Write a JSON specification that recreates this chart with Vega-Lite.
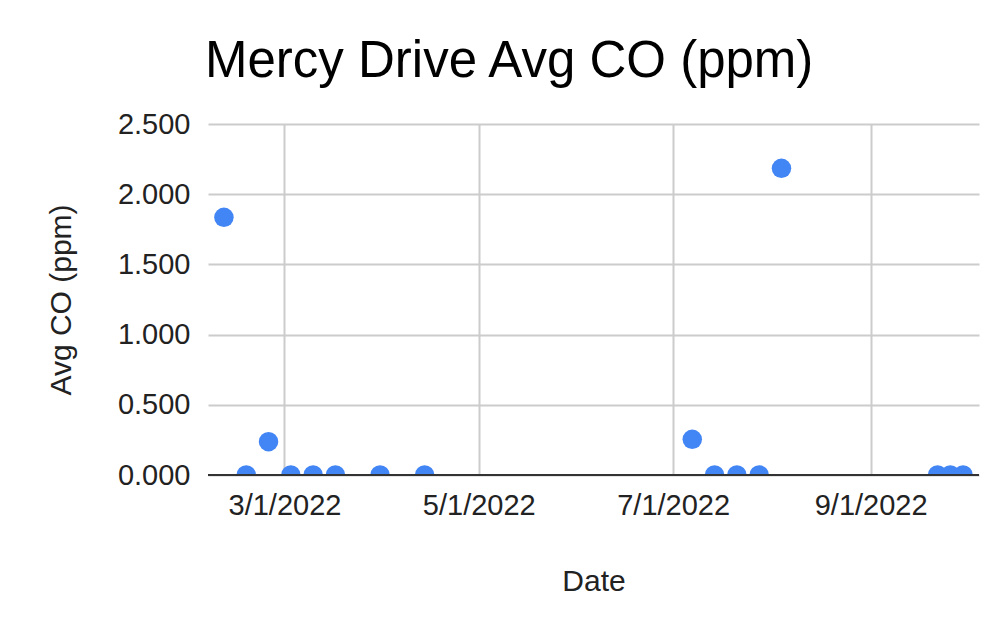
{
  "$schema": "https://vega.github.io/schema/vega-lite/v6.json",
  "width": 771,
  "height": 351,
  "autosize": {"type": "none"},
  "padding": {"left": 208, "top": 124, "right": 21, "bottom": 151},
  "background": "white",
  "title": {
    "text": "Mercy Drive Avg CO (ppm)",
    "anchor": "start",
    "frame": "group",
    "font": "Liberation Sans",
    "fontSize": 51,
    "fontWeight": "normal",
    "color": "#000000",
    "offset": 22,
    "dx": -3
  },
  "data": {
    "values": [
      {"Date": "2022/02/10", "CO": 1.835},
      {"Date": "2022/02/17", "CO": 0},
      {"Date": "2022/02/24", "CO": 0.237},
      {"Date": "2022/03/03", "CO": 0},
      {"Date": "2022/03/10", "CO": 0},
      {"Date": "2022/03/17", "CO": 0},
      {"Date": "2022/03/31", "CO": 0},
      {"Date": "2022/04/14", "CO": 0},
      {"Date": "2022/07/07", "CO": 0.254},
      {"Date": "2022/07/14", "CO": 0},
      {"Date": "2022/07/21", "CO": 0},
      {"Date": "2022/07/28", "CO": 0},
      {"Date": "2022/08/04", "CO": 2.184},
      {"Date": "2022/09/22", "CO": 0},
      {"Date": "2022/09/26", "CO": 0},
      {"Date": "2022/09/30", "CO": 0}
    ]
  },
  "layer": [
    {
      "mark": {"type": "point", "filled": true, "size": 380, "opacity": 1, "color": "#4285F4", "clip": true},
      "encoding": {
        "x": {
          "field": "Date",
          "type": "temporal",
          "title": "Date",
          "scale": {"domain": [{"year": 2022, "month": 2, "date": 5}, {"year": 2022, "month": 10, "date": 5}]},
          "axis": {
            "values": [
              {"year": 2022, "month": 3, "date": 1},
              {"year": 2022, "month": 5, "date": 1},
              {"year": 2022, "month": 7, "date": 1},
              {"year": 2022, "month": 9, "date": 1}
            ],
            "format": "%-m/%-d/%Y",
            "domain": false,
            "ticks": false,
            "labelPadding": 16,
            "titlePadding": 46
          }
        },
        "y": {
          "field": "CO",
          "type": "quantitative",
          "title": "Avg CO (ppm)",
          "scale": {"domain": [0, 2.5], "nice": false},
          "axis": {
            "values": [0, 0.5, 1, 1.5, 2, 2.5],
            "format": ".3f",
            "domain": false,
            "ticks": false,
            "labelPadding": 18,
            "titlePadding": 41
          }
        }
      }
    },
    {
      "mark": {"type": "rule", "color": "#333333", "strokeWidth": 2},
      "encoding": {"y": {"datum": 0}}
    }
  ],
  "config": {
    "view": {"stroke": null},
    "axis": {
      "labelFont": "Liberation Sans",
      "titleFont": "Liberation Sans",
      "labelFontSize": 29,
      "titleFontSize": 30,
      "titleFontWeight": "normal",
      "labelColor": "#222222",
      "titleColor": "#222222",
      "gridColor": "#cccccc",
      "gridWidth": 2
    }
  }
}
